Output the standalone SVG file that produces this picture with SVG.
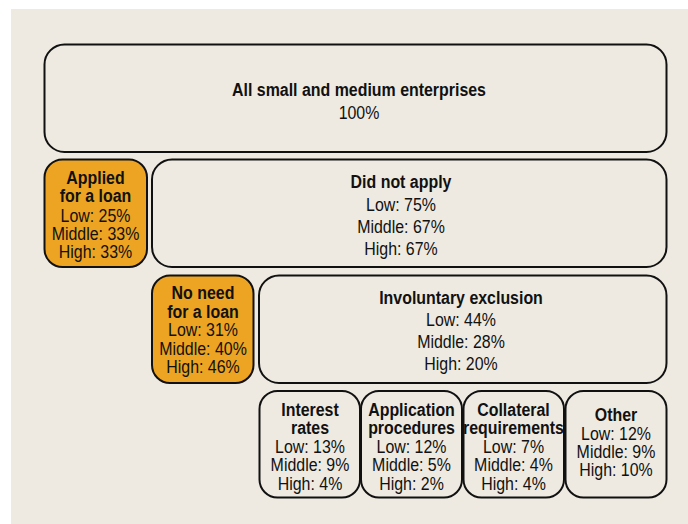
<svg xmlns="http://www.w3.org/2000/svg" width="688" height="524" viewBox="0 0 688 524">
<style>
.box{fill:#EEEAE1;stroke:#111;stroke-width:2}
.hl{fill:#EDA422;stroke:#111;stroke-width:2}
text{font-family:"Liberation Sans",Arial,sans-serif;font-size:17.7px;fill:#111;text-anchor:middle}
.b{font-weight:bold}
</style>
<rect x="0" y="0" width="688" height="524" fill="#FFFFFF"/>
<rect x="11" y="9" width="677" height="515" fill="#EEEAE1"/>
<g id="connectors"></g>
<g id="all">
<rect class="box" x="44.5" y="44.5" width="622" height="107.5" rx="20"/>
<text transform="translate(359,0) scale(0.9,1)"><tspan class="b" x="0" y="96.5">All small and medium enterprises</tspan><tspan x="0" y="119">100%</tspan></text>
</g>
<g id="applied">
<rect class="hl" x="44.5" y="159.5" width="102.5" height="107.5" rx="18"/>
<text transform="translate(95.5,0) scale(0.9,1)"><tspan class="b" x="0" y="184">Applied</tspan><tspan class="b" x="0" y="202.5">for a loan</tspan><tspan x="0" y="222">Low: 25%</tspan><tspan x="0" y="240">Middle: 33%</tspan><tspan x="0" y="258.5">High: 33%</tspan></text>
</g>
<g id="notapply">
<rect class="box" x="152" y="159.5" width="514.5" height="107.5" rx="20"/>
<text transform="translate(401,0) scale(0.9,1)"><tspan class="b" x="0" y="188">Did not apply</tspan><tspan x="0" y="211.5">Low: 75%</tspan><tspan x="0" y="233.5">Middle: 67%</tspan><tspan x="0" y="255">High: 67%</tspan></text>
</g>
<g id="noneed">
<rect class="hl" x="152" y="275.5" width="101.5" height="107.5" rx="18"/>
<text transform="translate(203,0) scale(0.9,1)"><tspan class="b" x="0" y="299.5">No need</tspan><tspan class="b" x="0" y="318.5">for a loan</tspan><tspan x="0" y="336.5">Low: 31%</tspan><tspan x="0" y="355">Middle: 40%</tspan><tspan x="0" y="373">High: 46%</tspan></text>
</g>
<g id="involuntary">
<rect class="box" x="259" y="275.5" width="407.5" height="107.5" rx="20"/>
<text transform="translate(461,0) scale(0.9,1)"><tspan class="b" x="0" y="304">Involuntary exclusion</tspan><tspan x="0" y="326">Low: 44%</tspan><tspan x="0" y="348">Middle: 28%</tspan><tspan x="0" y="370">High: 20%</tspan></text>
</g>
<g id="interest">
<rect class="box" x="259.5" y="391" width="100.5" height="106.5" rx="18"/>
<text transform="translate(310,0) scale(0.9,1)"><tspan class="b" x="0" y="416">Interest</tspan><tspan class="b" x="0" y="434.5">rates</tspan><tspan x="0" y="453">Low: 13%</tspan><tspan x="0" y="471">Middle: 9%</tspan><tspan x="0" y="490">High: 4%</tspan></text>
</g>
<g id="application">
<rect class="box" x="361" y="391" width="101" height="106.5" rx="18"/>
<text transform="translate(411.5,0) scale(0.9,1)"><tspan class="b" x="0" y="416">Application</tspan><tspan class="b" x="0" y="434.5">procedures</tspan><tspan x="0" y="453">Low: 12%</tspan><tspan x="0" y="471">Middle: 5%</tspan><tspan x="0" y="490">High: 2%</tspan></text>
</g>
<g id="collateral">
<rect class="box" x="463.5" y="391" width="100.5" height="106.5" rx="18"/>
<text transform="translate(513.5,0) scale(0.9,1)"><tspan class="b" x="0" y="416">Collateral</tspan><tspan class="b" x="0" y="434.5">requirements</tspan><tspan x="0" y="453">Low: 7%</tspan><tspan x="0" y="471">Middle: 4%</tspan><tspan x="0" y="490">High: 4%</tspan></text>
</g>
<g id="other">
<rect class="box" x="565.5" y="391" width="101" height="106.5" rx="18"/>
<text transform="translate(616,0) scale(0.9,1)"><tspan class="b" x="0" y="421.5">Other</tspan><tspan x="0" y="440">Low: 12%</tspan><tspan x="0" y="458">Middle: 9%</tspan><tspan x="0" y="476">High: 10%</tspan></text>
</g>
</svg>
